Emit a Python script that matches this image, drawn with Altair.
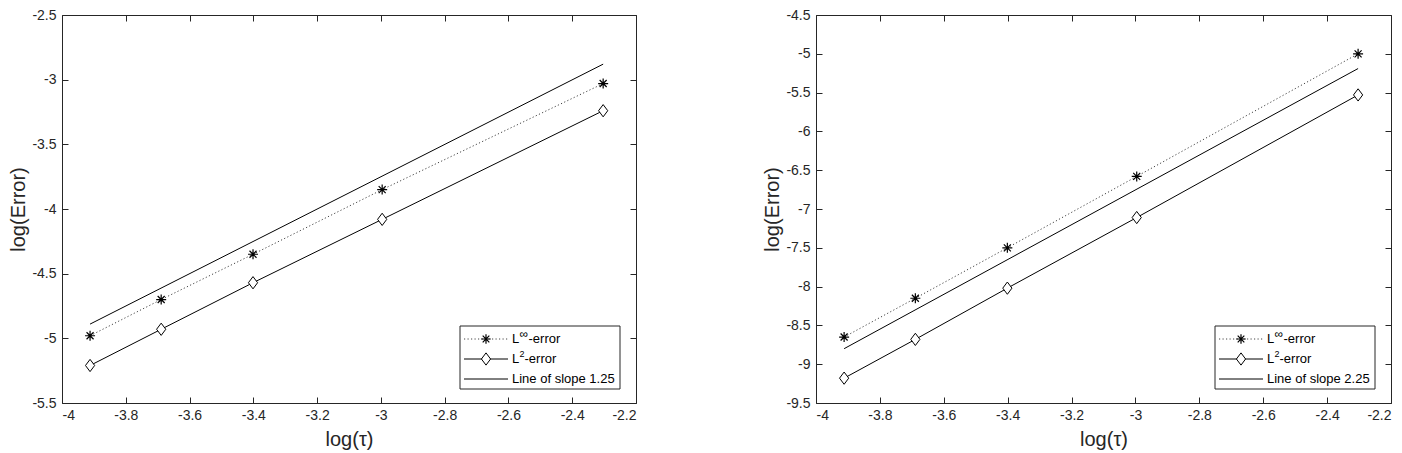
import altair as alt
import pandas as pd

# ---------------- data ----------------
X_LOG_TAU = [-3.912, -3.689, -3.401, -2.996, -2.303]

LEFT_LINF = [-4.98, -4.70, -4.35, -3.85, -3.03]
LEFT_L2 = [-5.21, -4.93, -4.57, -4.08, -3.24]
LEFT_SLOPE = [-4.89, -2.88]
LEFT_SLOPE_LABEL = "Line of slope 1.25"

RIGHT_LINF = [-8.65, -8.15, -7.50, -6.58, -5.00]
RIGHT_L2 = [-9.18, -8.68, -8.02, -7.11, -5.53]
RIGHT_SLOPE = [-8.80, -5.19]
RIGHT_SLOPE_LABEL = "Line of slope 2.25"

X_DOMAIN = [-4.0, -2.2]
X_TICKS = [-4.0, -3.8, -3.6, -3.4, -3.2, -3.0, -2.8, -2.6, -2.4, -2.2]
LEFT_Y_DOMAIN = [-5.5, -2.5]
LEFT_Y_TICKS = [-5.5, -5.0, -4.5, -4.0, -3.5, -3.0, -2.5]
RIGHT_Y_DOMAIN = [-9.5, -4.5]
RIGHT_Y_TICKS = [-9.5, -9.0, -8.5, -8.0, -7.5, -7.0, -6.5, -6.0, -5.5, -5.0, -4.5]

X_TITLE = "log(τ)"
Y_TITLE = "log(Error)"
LEG_INF = ["L", "∞", "-error"]
LEG_L2 = ["L", "2", "-error"]

# ---------------- style ----------------
FONT = "Liberation Sans"
AX = "#262626"
ASTERISK = "M0,-1V1M-1,0H1M-0.7,-0.7L0.7,0.7M-0.7,0.7L0.7,-0.7"
DIAMOND = "M0,-1L0.75,0L0,1L-0.75,0Z"


def label_axis(orient, values, title, label_pad, title_pad):
    return alt.Axis(orient=orient, values=values, labelExpr="'' + datum.value",
                    ticks=False, tickSize=0, domain=False, grid=False, title=title,
                    labelFont=FONT, labelFontSize=14, labelColor=AX,
                    titleFont=FONT, titleFontSize=20, titleFontWeight="normal",
                    titleColor=AX, labelPadding=label_pad, titlePadding=title_pad)


def tick_axis(orient, values):
    return alt.Axis(orient=orient, values=values, labels=False, domain=False,
                    grid=False, ticks=True, tickSize=6, tickWidth=1, tickColor=AX,
                    offset=-6, title=None)


def one_value():
    return alt.Data(values=[{}])


def panel(linf, l2, slope, ydom, yticks, slope_label, W, H):
    df = pd.DataFrame({"x": X_LOG_TAU, "inf": linf, "l2": l2})
    sl = pd.DataFrame({"x": [X_LOG_TAU[0], X_LOG_TAU[-1]], "y": slope})
    xs = alt.Scale(domain=X_DOMAIN, nice=False, zero=False)
    ys = alt.Scale(domain=ydom, nice=False, zero=False)

    slope_line = alt.Chart(sl).mark_line(color="black", strokeWidth=1).encode(
        x=alt.X("x:Q", scale=xs, axis=label_axis("bottom", X_TICKS, X_TITLE, 5, 7)),
        y=alt.Y("y:Q", scale=ys, axis=label_axis("left", yticks, Y_TITLE, 6, 3)),
    )
    l2_line = alt.Chart(df).mark_line(color="black", strokeWidth=1).encode(
        x=alt.X("x:Q", scale=xs, axis=tick_axis("bottom", X_TICKS)),
        y=alt.Y("l2:Q", scale=ys, axis=tick_axis("left", yticks)),
    )
    inf_line = alt.Chart(df).mark_line(color="#444444", strokeWidth=1,
                                       strokeDash=[1.2, 2.3]).encode(
        x=alt.X("x:Q", scale=xs, axis=tick_axis("top", X_TICKS)),
        y=alt.Y("inf:Q", scale=ys, axis=tick_axis("right", yticks)),
    )
    l2_pts = alt.Chart(df).mark_point(shape=DIAMOND, size=150, filled=True,
                                      fill="white", stroke="black", strokeWidth=1,
                                      opacity=1).encode(
        x=alt.X("x:Q", scale=xs, axis=None),
        y=alt.Y("l2:Q", scale=ys, axis=None),
    )
    inf_pts = alt.Chart(df).mark_point(shape=ASTERISK, size=100, filled=False,
                                       stroke="black", strokeWidth=1.2, opacity=1).encode(
        x=alt.X("x:Q", scale=xs, axis=None),
        y=alt.Y("inf:Q", scale=ys, axis=None),
    )

    # ---- legend (guide drawn in pixel space of the plot area) ----
    bx0, bx1 = W - 176, W - 16
    by0, by1 = H - 77, H - 14
    r1, r2, r3 = H - 64, H - 44, H - 24
    lx0, lx1, mx = W - 172, W - 128, W - 150
    tx = W - 124

    box = alt.Chart(one_value()).mark_rect(fill="white", stroke=AX, strokeWidth=1).encode(
        x=alt.value(bx0), x2=alt.value(bx1), y=alt.value(by0), y2=alt.value(by1))
    s1 = alt.Chart(one_value()).mark_rule(color="#444444", strokeWidth=1,
                                          strokeDash=[1.2, 2.3]).encode(
        x=alt.value(lx0), x2=alt.value(lx1), y=alt.value(r1))
    s2 = alt.Chart(one_value()).mark_rule(color="black", strokeWidth=1).encode(
        x=alt.value(lx0), x2=alt.value(lx1), y=alt.value(r2))
    s3 = alt.Chart(one_value()).mark_rule(color="black", strokeWidth=1).encode(
        x=alt.value(lx0), x2=alt.value(lx1), y=alt.value(r3))
    m1 = alt.Chart(one_value()).mark_point(shape=ASTERISK, size=90, filled=False,
                                           stroke="black", strokeWidth=1.2, opacity=1).encode(
        x=alt.value(mx), y=alt.value(r1))
    m2 = alt.Chart(one_value()).mark_point(shape=DIAMOND, size=150, filled=True,
                                           fill="white", stroke="black", strokeWidth=1,
                                           opacity=1).encode(
        x=alt.value(mx), y=alt.value(r2))

    def txt(t, x, y, fs=13):
        return alt.Chart(one_value()).mark_text(text=t, align="left", baseline="middle",
                                                font=FONT, fontSize=fs, color="black").encode(
            x=alt.value(x), y=alt.value(y))

    texts = [
        txt(LEG_INF[0], tx, r1), txt(LEG_INF[1], tx + 7.5, r1 - 5, 12),
        txt(LEG_INF[2], tx + 16.5, r1),
        txt(LEG_L2[0], tx, r2), txt(LEG_L2[1], tx + 7.5, r2 - 5, 9),
        txt(LEG_L2[2], tx + 12.5, r2),
        txt(slope_label, tx, r3),
    ]

    return alt.layer(slope_line, l2_line, inf_line, l2_pts, inf_pts,
                     box, s1, s2, s3, m1, m2, *texts).resolve_axis(
        x="independent", y="independent").properties(width=W, height=H)


H = 388
left = panel(LEFT_LINF, LEFT_L2, LEFT_SLOPE, LEFT_Y_DOMAIN, LEFT_Y_TICKS,
             LEFT_SLOPE_LABEL, 574, H)
right = panel(RIGHT_LINF, RIGHT_L2, RIGHT_SLOPE, RIGHT_Y_DOMAIN, RIGHT_Y_TICKS,
              RIGHT_SLOPE_LABEL, 575, H)

chart = alt.hconcat(left, right, spacing=180, bounds="flush").configure_view(
    stroke=AX, strokeWidth=1).properties(
    padding={"left": 0, "top": -1, "right": 0, "bottom": 0},
    background="white")

chart.save("out.html", embed_options={"renderer": "svg", "actions": False})
